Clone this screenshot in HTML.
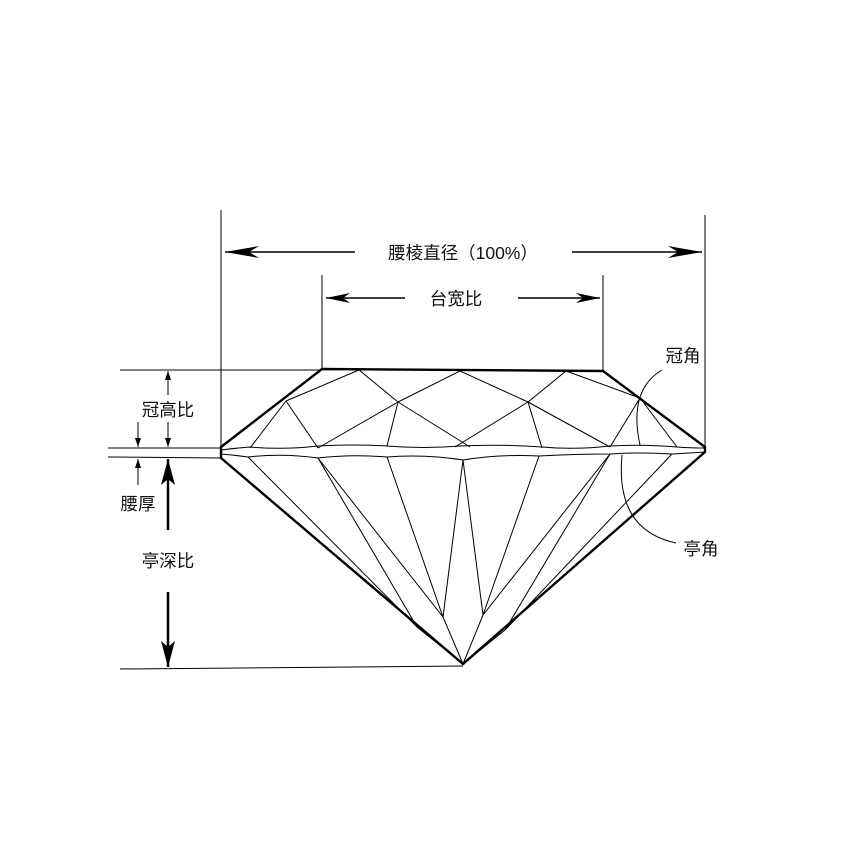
<!DOCTYPE html>
<html><head><meta charset="utf-8"><style>
html,body{margin:0;padding:0;background:#fff}
svg{display:block}
text{font-family:"Liberation Sans","Noto Sans CJK SC",sans-serif;font-size:17.5px;fill:#111}
</style></head><body>
<svg width="850" height="850" viewBox="0 0 850 850" xmlns="http://www.w3.org/2000/svg">
<defs>
<marker id="a" markerWidth="34" markerHeight="12" refX="34" refY="6" orient="auto" markerUnits="userSpaceOnUse"><path d="M0,0 L34,6 L0,12 L10,6 Z" fill="#000"/></marker>
<marker id="m" markerWidth="24" markerHeight="10" refX="24" refY="5" orient="auto" markerUnits="userSpaceOnUse"><path d="M0,0 L24,5 L0,10 L7,5 Z" fill="#000"/></marker>
<marker id="s" markerWidth="9" markerHeight="6" refX="9" refY="3" orient="auto" markerUnits="userSpaceOnUse"><path d="M0,0 L9,3 L0,6 Z" fill="#000"/></marker>
<marker id="b" markerWidth="26" markerHeight="14" refX="26" refY="7" orient="auto" markerUnits="userSpaceOnUse"><path d="M0,0 L26,7 L0,14 L6,7 Z" fill="#000"/></marker>
</defs>
<g stroke="#000" fill="none" stroke-width="1">
<line x1="221" y1="210" x2="221" y2="447"/>
<line x1="705" y1="215" x2="705" y2="448"/>
<line x1="322" y1="275" x2="322" y2="369"/>
<line x1="603" y1="275" x2="603" y2="371"/>
<line x1="120" y1="370" x2="322" y2="370"/>
<line x1="108" y1="448" x2="221" y2="448"/>
<line x1="108" y1="457" x2="221" y2="458"/>
<line x1="120" y1="669" x2="463" y2="666"/>
<line x1="355" y1="252" x2="225" y2="252" stroke-width="1.6" marker-end="url(#a)"/>
<line x1="572" y1="252" x2="702" y2="252" stroke-width="1.6" marker-end="url(#a)"/>
<line x1="405" y1="298" x2="326" y2="298" stroke-width="1.4" marker-end="url(#m)"/>
<line x1="518" y1="298" x2="600" y2="298" stroke-width="1.4" marker-end="url(#m)"/>
<line x1="168" y1="395" x2="168" y2="371" marker-end="url(#s)"/>
<line x1="168" y1="422" x2="168" y2="447" marker-end="url(#s)"/>
<line x1="138" y1="422" x2="138" y2="447" marker-end="url(#s)"/>
<line x1="138" y1="485" x2="138" y2="459" marker-end="url(#s)"/>
<line x1="168" y1="530" x2="168" y2="459" stroke-width="2.5" marker-end="url(#b)"/>
<line x1="168" y1="592" x2="168" y2="667" stroke-width="2.5" marker-end="url(#b)"/>
<path d="M322,369 L603,371 L705,447 L705,452 L463,664 L221,458 L221,447 Z" stroke-width="2.4"/>
<path d="M286,401 L250,448 M286,401 L318,448 M286,401 L359,370 L398,402 L318,448 M398,402 L387,446 M398,402 L460,371 L528,402 M398,402 L470,447 M528,402 L455,447 M528,402 L542,448 M528,402 L610,447 M528,402 L566,371 L640,398 M640,398 L610,447 M640,398 L677,447"/>
<path d="M221,450 Q236,448 250,447 Q284,450 318,446 Q352,444 387,446 Q423,449 460,446 Q500,444 542,447 Q576,450 610,446 Q643,444 677,447 Q690,448 705,448"/>
<path d="M221,454 Q234,455 248,457 Q283,453 318,458 Q352,454 387,457 Q425,454 463,460 Q500,454 539,456 Q575,454 610,454 Q641,452 672,454 Q690,453 705,452"/>
<path d="M248,457 L417,627 L463,664 M318,458 L443,617 L463,664 M318,458 L417,627 M387,457 L443,617 M463,460 L443,617 M463,460 L483,615 L463,664 M539,456 L483,615 M610,454 L483,615 M610,454 L505,630 L463,664 M672,454 L505,630"/>
<path d="M662,370 Q628,390 640,445"/>
<path d="M622,455 Q615,530 676,543"/>
</g>
<text x="463" y="259" text-anchor="middle">腰棱直径（100%）</text>
<text x="456" y="305" text-anchor="middle">台宽比</text>
<text x="168" y="416" text-anchor="middle">冠高比</text>
<text x="138" y="510" text-anchor="middle">腰厚</text>
<text x="168" y="567" text-anchor="middle">亭深比</text>
<text x="683" y="362" text-anchor="middle">冠角</text>
<text x="701" y="555" text-anchor="middle">亭角</text>
</svg>
</body></html>
